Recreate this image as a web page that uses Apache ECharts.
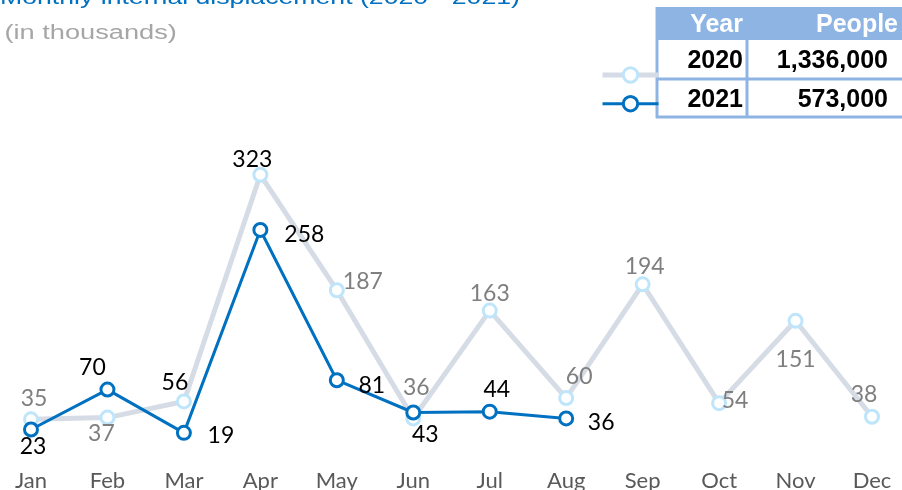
<!DOCTYPE html>
<html>
<head>
<meta charset="utf-8">
<script src="https://cdn.jsdelivr.net/npm/echarts@6/dist/echarts.min.js"></script>
<style>
  html, body { margin: 0; padding: 0; background: #fff; }
  #chart { width: 902px; height: 490px; }
</style>
</head>
<body>
<div id="chart"></div>
<script>
const months = ['Jan', 'Feb', 'Mar', 'Apr', 'May', 'Jun', 'Jul', 'Aug', 'Sep', 'Oct', 'Nov', 'Dec']
const values2020 = [35, 37, 56, 323, 187, 36, 163, 60, 194, 54, 151, 38]
const values2021 = [23, 70, 19, 258, 81, 43, 44, 36]
const tableHeader = ['Year', 'People']
const tableYears = ['2020', '2021']
const tablePeople = ['1,336,000', '573,000']

// where each value label sits, relative to its point
const offsets2020 = [[3, -21], [-6, 16], [-9, -19], [-8, -15], [26, -9], [3, -31], [0, -17], [13, -21], [2, -18], [16, -3], [0, 39], [-8, -22]]
const offsets2021 = [[2, 17], [-15, -22], [37, 3], [44, 5], [35, 5], [12, 22], [7, -22], [35, 4]]
const blackLabels2020 = [2, 3]

const GREY_LINE = '#D6DCE5'
const LIGHT_BLUE = '#BFE5FB'
const BLUE = '#0070C0'
const TABLE_BLUE = '#8EB4E3'

function labelled(values, offsets, colorFor) {
  return values.map((v, i) => ({
    value: v,
    label: { offset: offsets[i], color: colorFor(i) }
  }))
}

function buildTable() {
  const els = []
  const left = 656
  const rowTop = [7, 40, 79, 117]
  const colRight = [743, 888]
  els.push({ type: 'rect', shape: { x: left, y: rowTop[0], width: 260, height: rowTop[1] - rowTop[0] }, style: { fill: TABLE_BLUE } })
  const lines = [
    [left + 1, rowTop[0], left + 1, rowTop[3] + 1],
    [747, rowTop[1], 747, rowTop[3] + 1],
    [left, rowTop[2], 910, rowTop[2]],
    [left, rowTop[3], 910, rowTop[3]]
  ]
  lines.forEach(l => {
    els.push({ type: 'line', shape: { x1: l[0], y1: l[1], x2: l[2], y2: l[3] }, style: { stroke: TABLE_BLUE, lineWidth: 3 } })
  })
  const font = 'bold 25px "Liberation Sans", Arial, sans-serif'
  tableHeader.forEach((t, c) => {
    els.push({ type: 'text', x: c === 0 ? colRight[0] : 898, y: (rowTop[0] + rowTop[1]) / 2 + 2,
      style: { text: t, font: font, fill: '#fff', align: 'right', verticalAlign: 'middle' } })
  })
  tableYears.forEach((y, r) => {
    const cy = (rowTop[r + 1] + rowTop[r + 2]) / 2 + 2
    els.push({ type: 'text', x: colRight[0], y: cy, style: { text: y, font: font, fill: '#000', align: 'right', verticalAlign: 'middle' } })
    els.push({ type: 'text', x: colRight[1], y: cy, style: { text: tablePeople[r], font: font, fill: '#000', align: 'right', verticalAlign: 'middle' } })
  })
  return els
}

const chart = echarts.init(document.getElementById('chart'))
chart.setOption({
  animation: false,
  textStyle: { fontFamily: 'Lato, sans-serif' },
  graphic: [
    { type: 'text', x: 0, y: -2, scaleX: 1.3, originX: 0,
      style: { text: 'Monthly internal displacement (2020 - 2021)', font: '20.5px "Liberation Sans", Arial, sans-serif', fill: BLUE, verticalAlign: 'middle' } },
    { type: 'text', x: 7, y: 33, scaleX: 1.36, originX: 7,
      style: { text: '(in thousands)', font: '20px "Liberation Sans", Arial, sans-serif', fill: '#A6A6A6', verticalAlign: 'middle' } }
  ].concat(buildTable()),
  legend: {
    left: 595,
    top: 61,
    orient: 'vertical',
    itemWidth: 56,
    itemHeight: 18,
    itemGap: 11,
    selectedMode: false,
    formatter: () => '',
    lineStyle: { width: 'inherit' },
    itemStyle: { borderWidth: 'inherit' },
    data: ['2020', '2021']
  },
  grid: { left: 31, right: 30, top: 109.4, bottom: 41, outerBoundsMode: 'none' },
  xAxis: {
    type: 'category',
    data: months,
    boundaryGap: false,
    axisLine: { show: false },
    axisTick: { show: false },
    splitLine: { show: false },
    axisLabel: { color: '#595959', fontSize: 22, margin: 21 }
  },
  yAxis: {
    type: 'value',
    min: 0,
    max: 400,
    show: false
  },
  series: [
    {
      name: '2020',
      type: 'line',
      z: 2,
      symbol: 'circle',
      symbolSize: 13,
      lineStyle: { color: GREY_LINE, width: 5 },
      itemStyle: { color: '#fff', borderColor: LIGHT_BLUE, borderWidth: 3 },
      label: { show: true, position: 'inside', fontSize: 23, align: 'center', verticalAlign: 'middle' },
      data: labelled(values2020, offsets2020, i => blackLabels2020.includes(i) ? '#000' : '#7F7F7F')
    },
    {
      name: '2021',
      type: 'line',
      z: 3,
      symbol: 'circle',
      symbolSize: 13,
      lineStyle: { color: BLUE, width: 3 },
      itemStyle: { color: '#fff', borderColor: BLUE, borderWidth: 3 },
      label: { show: true, position: 'inside', fontSize: 23, align: 'center', verticalAlign: 'middle' },
      data: labelled(values2021, offsets2021, () => '#000')
    }
  ]
})
</script>
</body>
</html>
